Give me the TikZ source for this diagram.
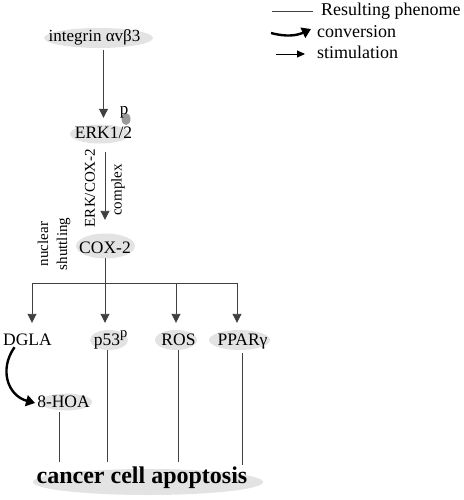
\documentclass[tikz,border=0pt]{standalone}
\usepackage{fontspec}
\setmainfont{Liberation Serif}
\usepackage{tikz}
\usetikzlibrary{arrows.meta}

\tikzset{
    mol/.style={font=\fontsize{17.5}{20}\selectfont, inner sep=1pt, text height=12pt, text depth=4pt},
    legend/.style={mol, font=\fontsize{18}{21}\selectfont, anchor=west},
    side/.style={font=\fontsize{15}{19}\selectfont, inner sep=2pt, rotate=90},
    blob/.style={fill=black!11},
    link/.style={draw=black!75, line width=0.9pt},
    stim/.style={link, -{Triangle[length=9pt,width=9pt]}},
    conv/.style={line width=2.4pt, -{Triangle[length=9pt,width=11pt]}}
}

\begin{document}
\begin{tikzpicture}[x=1pt, y=-1pt]
            \useasboundingbox (0,0) rectangle (463,500);
            \fill[blob] (98.5,38) ellipse (54.5 and 10);
            \fill[blob] (100,134) ellipse (30 and 9.5);
            \fill[black!40] (126,119) ellipse (4.5 and 6);
            \fill[blob] (105.5,246) ellipse (29.5 and 12.5);
            \fill[blob] (109,340) ellipse (19 and 10);
            \fill[blob] (176,340) ellipse (21 and 10);
            \fill[blob] (239.5,340) ellipse (30.5 and 10);
            \fill[blob] (66,402) ellipse (26 and 8.5);
            \fill[blob] (148,482) ellipse (115 and 13);

            \node[mol, font=\fontsize{17}{20}\selectfont] (intg) at (94.5,38) {integrin αvβ3};
            \node[mol] (erk) at (103.5,135) {ERK1/2};
            \node[font=\fontsize{17}{17}\selectfont, inner sep=0pt] (erkp) at (124,112) {p};
            \node[mol] (cox) at (105,249) {COX-2};
            \node[side] (erkcox) at (90,188) {ERK/COX-2};
            \node[side] (cplx) at (118,190) {complex};
            \node[side, align=center] (shuttle) at (54,244) {nuclear\\shuttling};
            \node[mol] (dgla) at (27.5,341) {DGLA};
            \node[mol] (p53) at (110.5,341) {p53\raisebox{7.5pt}{\fontsize{14.5}{14}\selectfont p}};
            \node[mol] (ros) at (178.5,341) {ROS};
            \node[mol] (ppar) at (242.5,341) {PPARγ};
            \node[mol] (hoa) at (63.5,403) {8-HOA};
            \node[font=\bfseries\fontsize{24}{28}\selectfont, inner sep=1pt] (apop) at (142,477.5) {cancer cell apoptosis};
            \coordinate (fork) at (105,283);

            \draw[stim, shorten <=3pt, shorten >=8pt] (intg.south -| erk.north) -- (erk.north);
            \draw[stim, shorten <=8pt, shorten >=20pt] (erk.south -| cox.north) -- (cox.north);
            \draw[stim, shorten >=9pt] (cox.south) -- (cox.south |- p53.north);
            \draw[link] ([xshift=4.5pt]dgla.north |- fork) -- ([xshift=-5.5pt]ppar.north |- fork);
            \draw[stim, shorten >=9pt] ([xshift=4.5pt]dgla.north |- fork) -- ([xshift=4.5pt]dgla.north);
            \draw[stim, shorten >=9pt] ([xshift=-2.5pt]ros.north |- fork) -- ([xshift=-2.5pt]ros.north);
            \draw[stim, shorten >=9pt] ([xshift=-5.5pt]ppar.north |- fork) -- ([xshift=-5.5pt]ppar.north);
            \draw[conv] ([xshift=-13pt,yshift=3pt]dgla.south) to[out=235, in=165, looseness=1.2] ([xshift=-1pt]hoa.west);

            \draw[link, shorten >=3pt] ([xshift=-4.5pt]hoa.south) -- ([xshift=-4.5pt]hoa.south |- apop.north);
            \draw[link, shorten >=3pt] ([xshift=-3.5pt]p53.south) -- ([xshift=-3.5pt]p53.south |- apop.north);
            \draw[link, shorten >=3pt] (ros.south) -- (ros.south |- apop.north);
            \draw[link, shorten <=3pt] (ppar.south) -- (ppar.south |- apop.north);

            \node[legend] (lgres) at (320,12) {Resulting phenome};
            \node[legend] (lgconv) at (316,34) {conversion};
            \node[legend] (lgstim) at (316,55) {stimulation};
            \coordinate (lgresa) at (272,11);
            \coordinate (lgresb) at (313,11);
            \coordinate (lgconva) at (271,33);
            \coordinate (lgconvb) at (311,29);
            \coordinate (lgstima) at (276,54);
            \coordinate (lgstimb) at (305,54);
            \draw[link] (lgresa) -- (lgresb);
            \draw[conv] (lgconva) to[out=-15, in=205] (lgconvb);
            \draw[stim, black, -{Triangle[length=8pt,width=7pt]}] (lgstima) -- (lgstimb);
\end{tikzpicture}
\end{document}
